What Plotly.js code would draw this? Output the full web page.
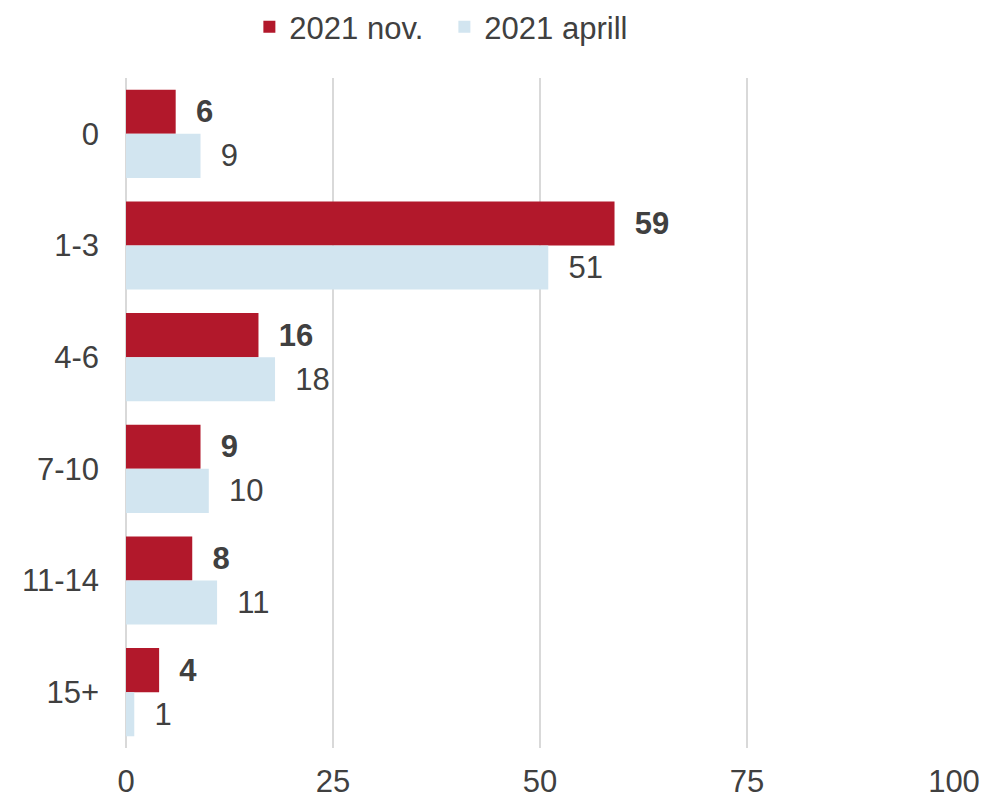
<!DOCTYPE html>
<html>
<head>
<meta charset="utf-8">
<script src="https://cdn.plot.ly/plotly-3.0.1.min.js"></script>
<style>html,body{margin:0;padding:0;background:#fff;}#chart{width:982px;height:798px;}</style>
</head>
<body>
<div id="chart"></div>
<script>
const categories = ["0", "1-3", "4-6", "7-10", "11-14", "15+"];
const novValues = [6, 59, 16, 9, 8, 4];
const aprValues = [9, 51, 18, 10, 11, 1];
const seriesNames = ["2021 nov.", "2021 aprill"];
const xTicks = [0, 25, 50, 75, 100];

const txtColor = "#404040";
const fontFam = "Liberation Sans, Arial, sans-serif";

const traces = [
  {
    type: "bar", orientation: "h", name: seriesNames[0],
    y: categories, x: novValues,
    marker: {color: "#B2182B"},
    text: novValues.map(v => "  <b>" + v + "</b>"),
    textposition: "outside", constraintext: "none", cliponaxis: false,
    textfont: {family: fontFam, size: 31, color: txtColor},
    hoverinfo: "x+y"
  },
  {
    type: "bar", orientation: "h", name: seriesNames[1],
    y: categories, x: aprValues,
    marker: {color: "#D2E5F0"},
    text: aprValues.map(v => "  " + v),
    textposition: "outside", constraintext: "none", cliponaxis: false,
    textfont: {family: fontFam, size: 31, color: txtColor},
    hoverinfo: "x+y"
  }
];

const layout = {
  width: 982, height: 798,
  margin: {l: 126, r: 28, t: 78, b: 50, autoexpand: false},
  paper_bgcolor: "#fff", plot_bgcolor: "#fff",
  font: {family: fontFam, size: 31, color: txtColor},
  barmode: "group", bargap: 0.21, bargroupgap: 0,
  showlegend: true,
  legend: {
    orientation: "h", x: 0.149, xanchor: "left",
    yref: "container", y: 0.966, yanchor: "middle",
    font: {family: fontFam, size: 31, color: txtColor},
    traceorder: "normal", entrywidth: 150, entrywidthmode: "pixels"
  },
  xaxis: {
    range: [0, 100], tickvals: xTicks, ticktext: xTicks.map(String),
    showgrid: true, gridcolor: "#D9D9D9", gridwidth: 2,
    zeroline: true, zerolinecolor: "#D9D9D9", zerolinewidth: 2,
    showline: false, ticks: "", ticklabelstandoff: 12,
    tickfont: {family: fontFam, size: 31, color: txtColor}
  },
  yaxis: {
    type: "category", categoryarray: categories, categoryorder: "array",
    autorange: "reversed", showgrid: false, zeroline: false, showline: false,
    ticks: "", ticklabelstandoff: 26,
    tickfont: {family: fontFam, size: 31, color: txtColor}
  }
};

Plotly.newPlot("chart", traces, layout, {displayModeBar: false, staticPlot: true});
</script>
</body>
</html>
